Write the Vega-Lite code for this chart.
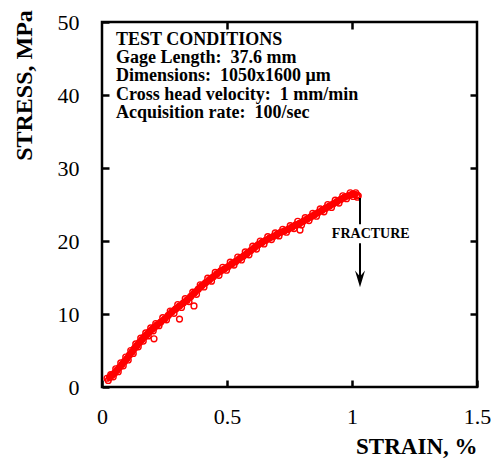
{
  "$schema": "https://vega.github.io/schema/vega-lite/v6.json",
  "width": 375,
  "height": 365,
  "autosize": "none",
  "padding": {"left": 102, "top": 22, "right": 17, "bottom": 71},
  "background": "white",
  "config": {
    "font": "Liberation Serif",
    "view": {"stroke": "black", "strokeWidth": 2.5},
    "axis": {"grid": false, "domain": false, "tickColor": "black", "tickWidth": 2.5, "labelColor": "black", "titleColor": "black", "labelFont": "Liberation Serif", "titleFont": "Liberation Serif"}
  },
  "datasets": {
    "curve": [
      {"strain": 0.020, "stress": 1.2, "kind": "a"}, {"strain": 0.030, "stress": 1.3, "kind": "a"}, {"strain": 0.040, "stress": 1.6, "kind": "a"}, {"strain": 0.050, "stress": 1.9, "kind": "a"}, {"strain": 0.060, "stress": 2.3, "kind": "a"}, {"strain": 0.070, "stress": 2.7, "kind": "a"}, {"strain": 0.080, "stress": 3.1, "kind": "a"}, {"strain": 0.090, "stress": 3.5, "kind": "a"}, {"strain": 0.100, "stress": 3.9, "kind": "a"}, {"strain": 0.110, "stress": 4.4, "kind": "a"}, {"strain": 0.120, "stress": 4.8, "kind": "a"}, {"strain": 0.130, "stress": 5.3, "kind": "a"}, {"strain": 0.140, "stress": 5.7, "kind": "a"}, {"strain": 0.150, "stress": 6.1, "kind": "a"}, {"strain": 0.160, "stress": 6.5, "kind": "a"}, {"strain": 0.170, "stress": 6.9, "kind": "a"}, {"strain": 0.180, "stress": 7.2, "kind": "a"}, {"strain": 0.190, "stress": 7.6, "kind": "a"}, {"strain": 0.200, "stress": 7.9, "kind": "a"}, {"strain": 0.210, "stress": 8.2, "kind": "a"}, {"strain": 0.220, "stress": 8.5, "kind": "a"}, {"strain": 0.235, "stress": 8.9, "kind": "a"}, {"strain": 0.250, "stress": 9.3, "kind": "a"}, {"strain": 0.265, "stress": 9.8, "kind": "a"}, {"strain": 0.280, "stress": 10.3, "kind": "a"}, {"strain": 0.295, "stress": 10.7, "kind": "a"}, {"strain": 0.310, "stress": 11.1, "kind": "a"}, {"strain": 0.325, "stress": 11.5, "kind": "a"}, {"strain": 0.340, "stress": 11.9, "kind": "a"}, {"strain": 0.355, "stress": 12.4, "kind": "a"}, {"strain": 0.370, "stress": 12.9, "kind": "a"}, {"strain": 0.385, "stress": 13.4, "kind": "a"}, {"strain": 0.400, "stress": 13.9, "kind": "a"}, {"strain": 0.415, "stress": 14.3, "kind": "a"}, {"strain": 0.430, "stress": 14.7, "kind": "a"}, {"strain": 0.445, "stress": 15.1, "kind": "a"}, {"strain": 0.460, "stress": 15.5, "kind": "a"}, {"strain": 0.475, "stress": 15.9, "kind": "a"}, {"strain": 0.490, "stress": 16.2, "kind": "a"}, {"strain": 0.505, "stress": 16.5, "kind": "a"}, {"strain": 0.520, "stress": 16.9, "kind": "a"}, {"strain": 0.535, "stress": 17.2, "kind": "a"}, {"strain": 0.550, "stress": 17.6, "kind": "a"}, {"strain": 0.565, "stress": 17.9, "kind": "a"}, {"strain": 0.580, "stress": 18.3, "kind": "a"}, {"strain": 0.595, "stress": 18.7, "kind": "a"}, {"strain": 0.610, "stress": 19.1, "kind": "a"}, {"strain": 0.625, "stress": 19.5, "kind": "a"}, {"strain": 0.640, "stress": 19.8, "kind": "a"}, {"strain": 0.655, "stress": 20.1, "kind": "a"}, {"strain": 0.670, "stress": 20.4, "kind": "a"}, {"strain": 0.685, "stress": 20.6, "kind": "a"}, {"strain": 0.700, "stress": 20.9, "kind": "a"}, {"strain": 0.715, "stress": 21.2, "kind": "a"}, {"strain": 0.730, "stress": 21.4, "kind": "a"}, {"strain": 0.745, "stress": 21.6, "kind": "a"}, {"strain": 0.760, "stress": 21.9, "kind": "a"}, {"strain": 0.775, "stress": 22.2, "kind": "a"}, {"strain": 0.790, "stress": 22.4, "kind": "a"}, {"strain": 0.805, "stress": 22.7, "kind": "a"}, {"strain": 0.820, "stress": 23.0, "kind": "a"}, {"strain": 0.835, "stress": 23.3, "kind": "a"}, {"strain": 0.850, "stress": 23.6, "kind": "a"}, {"strain": 0.865, "stress": 23.9, "kind": "a"}, {"strain": 0.880, "stress": 24.2, "kind": "a"}, {"strain": 0.895, "stress": 24.5, "kind": "a"}, {"strain": 0.910, "stress": 24.8, "kind": "a"}, {"strain": 0.925, "stress": 25.1, "kind": "a"}, {"strain": 0.940, "stress": 25.4, "kind": "a"}, {"strain": 0.955, "stress": 25.7, "kind": "a"}, {"strain": 0.970, "stress": 26.0, "kind": "a"}, {"strain": 0.985, "stress": 26.2, "kind": "a"}, {"strain": 1.000, "stress": 26.4, "kind": "a"}, {"strain": 1.010, "stress": 26.4, "kind": "a"}, {"strain": 1.020, "stress": 26.3, "kind": "a"}, {"strain": 1.025, "stress": 26.2, "kind": "a"},
      {"strain": 0.025, "stress": 0.9, "kind": "b"}, {"strain": 0.035, "stress": 1.7, "kind": "b"}, {"strain": 0.045, "stress": 1.4, "kind": "b"}, {"strain": 0.055, "stress": 2.5, "kind": "b"}, {"strain": 0.065, "stress": 2.1, "kind": "b"}, {"strain": 0.075, "stress": 3.3, "kind": "b"}, {"strain": 0.085, "stress": 2.9, "kind": "b"}, {"strain": 0.095, "stress": 4.1, "kind": "b"}, {"strain": 0.105, "stress": 3.7, "kind": "b"}, {"strain": 0.115, "stress": 5.0, "kind": "b"}, {"strain": 0.125, "stress": 4.6, "kind": "b"}, {"strain": 0.135, "stress": 5.9, "kind": "b"}, {"strain": 0.145, "stress": 5.5, "kind": "b"}, {"strain": 0.155, "stress": 6.7, "kind": "b"}, {"strain": 0.165, "stress": 6.3, "kind": "b"}, {"strain": 0.175, "stress": 7.4, "kind": "b"}, {"strain": 0.185, "stress": 7.0, "kind": "b"}, {"strain": 0.195, "stress": 8.1, "kind": "b"}, {"strain": 0.205, "stress": 7.7, "kind": "b"}, {"strain": 0.215, "stress": 8.7, "kind": "b"}, {"strain": 0.228, "stress": 8.4, "kind": "b"}, {"strain": 0.243, "stress": 9.5, "kind": "b"}, {"strain": 0.258, "stress": 9.2, "kind": "b"}, {"strain": 0.273, "stress": 10.4, "kind": "b"}, {"strain": 0.288, "stress": 10.1, "kind": "b"}, {"strain": 0.303, "stress": 11.3, "kind": "b"}, {"strain": 0.318, "stress": 10.9, "kind": "b"}, {"strain": 0.333, "stress": 12.1, "kind": "b"}, {"strain": 0.348, "stress": 11.7, "kind": "b"}, {"strain": 0.363, "stress": 13.0, "kind": "b"}, {"strain": 0.378, "stress": 12.7, "kind": "b"}, {"strain": 0.393, "stress": 14.0, "kind": "b"}, {"strain": 0.408, "stress": 13.7, "kind": "b"}, {"strain": 0.423, "stress": 14.9, "kind": "b"}, {"strain": 0.438, "stress": 14.5, "kind": "b"}, {"strain": 0.453, "stress": 15.7, "kind": "b"}, {"strain": 0.468, "stress": 15.3, "kind": "b"}, {"strain": 0.483, "stress": 16.4, "kind": "b"}, {"strain": 0.498, "stress": 16.0, "kind": "b"}, {"strain": 0.513, "stress": 17.1, "kind": "b"}, {"strain": 0.528, "stress": 16.7, "kind": "b"}, {"strain": 0.543, "stress": 17.8, "kind": "b"}, {"strain": 0.558, "stress": 17.4, "kind": "b"}, {"strain": 0.573, "stress": 18.5, "kind": "b"}, {"strain": 0.588, "stress": 18.1, "kind": "b"}, {"strain": 0.603, "stress": 19.3, "kind": "b"}, {"strain": 0.618, "stress": 18.9, "kind": "b"}, {"strain": 0.633, "stress": 20.0, "kind": "b"}, {"strain": 0.648, "stress": 19.6, "kind": "b"}, {"strain": 0.663, "stress": 20.6, "kind": "b"}, {"strain": 0.678, "stress": 20.2, "kind": "b"}, {"strain": 0.693, "stress": 21.1, "kind": "b"}, {"strain": 0.708, "stress": 20.7, "kind": "b"}, {"strain": 0.723, "stress": 21.6, "kind": "b"}, {"strain": 0.738, "stress": 21.2, "kind": "b"}, {"strain": 0.753, "stress": 22.1, "kind": "b"}, {"strain": 0.768, "stress": 21.7, "kind": "b"}, {"strain": 0.783, "stress": 22.7, "kind": "b"}, {"strain": 0.798, "stress": 22.2, "kind": "b"}, {"strain": 0.813, "stress": 23.2, "kind": "b"}, {"strain": 0.828, "stress": 22.8, "kind": "b"}, {"strain": 0.843, "stress": 23.8, "kind": "b"}, {"strain": 0.858, "stress": 23.4, "kind": "b"}, {"strain": 0.873, "stress": 24.4, "kind": "b"}, {"strain": 0.888, "stress": 24.0, "kind": "b"}, {"strain": 0.903, "stress": 25.0, "kind": "b"}, {"strain": 0.918, "stress": 24.6, "kind": "b"}, {"strain": 0.933, "stress": 25.6, "kind": "b"}, {"strain": 0.948, "stress": 25.2, "kind": "b"}, {"strain": 0.963, "stress": 26.2, "kind": "b"}, {"strain": 0.978, "stress": 25.8, "kind": "b"}, {"strain": 0.993, "stress": 26.6, "kind": "b"}, {"strain": 1.005, "stress": 26.1, "kind": "b"}, {"strain": 1.015, "stress": 26.6, "kind": "b"}, {"strain": 1.022, "stress": 26.0, "kind": "b"},
      {"strain": 0.208, "stress": 6.6, "kind": "o"}, {"strain": 0.310, "stress": 9.3, "kind": "o"}, {"strain": 0.368, "stress": 11.1, "kind": "o"}, {"strain": 0.792, "stress": 21.5, "kind": "o"}
    ],
    "notes": [
      {"strain": 0.056, "stress": 46.85, "label": "TEST CONDITIONS"},
      {"strain": 0.056, "stress": 44.35, "label": "Gage Length:\u00a0 37.6 mm"},
      {"strain": 0.056, "stress": 41.85, "label": "Dimensions:\u00a0 1050x1600 μm"},
      {"strain": 0.056, "stress": 39.35, "label": "Cross head velocity:\u00a0 1 mm/min"},
      {"strain": 0.056, "stress": 36.85, "label": "Acquisition rate:\u00a0 100/sec"}
    ],
    "fracture": [
      {"strain": 1.075, "stress": 21.0, "label": "FRACTURE"}
    ],
    "arrow": [
      {"strain": 1.032, "top": 25.9, "bottom": 22.3},
      {"strain": 1.032, "top": 19.7, "bottom": 14.5}
    ],
    "arrowhead": [
      {"strain": 1.032, "stress": 14.8}
    ]
  },
  "layer": [
    {
      "data": {"name": "curve"},
      "transform": [{"filter": "datum.kind == 'a'"}],
      "mark": {"type": "line", "color": "#ff0000", "strokeWidth": 6.5},
      "encoding": {
        "x": {"field": "strain", "type": "quantitative", "scale": {"domain": [0, 1.5], "nice": false},
          "axis": {"orient": "bottom", "offset": -7, "values": [0, 0.5, 1, 1.5], "tickSize": 7, "labelPadding": 36, "labelBaseline": "alphabetic", "labelFontSize": 22, "labelFlush": false, "labelOverlap": false, "format": "~g",
            "title": "STRAIN, %", "titleFontSize": 23, "titleFontWeight": "bold", "titleX": 375, "titleY": 73, "titleAlign": "right", "titleBaseline": "alphabetic", "titleAnchor": null}},
        "y": {"field": "stress", "type": "quantitative", "scale": {"domain": [0, 50], "nice": false},
          "axis": {"orient": "left", "offset": -7, "values": [0, 10, 20, 30, 40, 50], "tickSize": 7, "labelPadding": 23, "labelFontSize": 22, "labelFlush": false, "labelOverlap": false,
            "title": "STRESS, MPa", "titleFontSize": 24, "titleFontWeight": "bold", "titleAngle": -90, "titleX": -78, "titleY": 63, "titleAlign": "center", "titleBaseline": "alphabetic", "titleAnchor": null}},
        "order": {"field": "strain", "type": "quantitative"}
      }
    },
    {
      "data": {"name": "curve"},
      "mark": {"type": "point", "shape": "circle", "filled": false, "color": "#ff0000", "size": 34, "strokeWidth": 1.4, "opacity": 1},
      "encoding": {
        "x": {"field": "strain", "type": "quantitative", "axis": null},
        "y": {"field": "stress", "type": "quantitative", "axis": null}
      }
    },
    {
      "data": {"name": "notes"},
      "mark": {"type": "text", "align": "left", "baseline": "alphabetic", "fontSize": 18, "fontWeight": "bold", "font": "Liberation Serif", "color": "black"},
      "encoding": {
        "x": {"field": "strain", "type": "quantitative", "scale": {"domain": [0, 1.5], "nice": false},
          "axis": {"orient": "top", "offset": -7, "values": [0.5, 1], "tickSize": 7, "labels": false, "title": null}},
        "y": {"field": "stress", "type": "quantitative", "scale": {"domain": [0, 50], "nice": false},
          "axis": {"orient": "right", "offset": -7, "values": [10, 20, 30, 40], "tickSize": 7, "labels": false, "title": null}},
        "text": {"field": "label", "type": "nominal"}
      }
    },
    {
      "data": {"name": "fracture"},
      "mark": {"type": "text", "align": "center", "baseline": "middle", "fontSize": 14, "fontWeight": "bold", "font": "Liberation Serif", "color": "black"},
      "encoding": {
        "x": {"field": "strain", "type": "quantitative", "axis": null},
        "y": {"field": "stress", "type": "quantitative", "axis": null},
        "text": {"field": "label", "type": "nominal"}
      }
    },
    {
      "data": {"name": "arrow"},
      "mark": {"type": "rule", "color": "black", "strokeWidth": 2},
      "encoding": {
        "x": {"field": "strain", "type": "quantitative", "axis": null},
        "y": {"field": "top", "type": "quantitative", "axis": null},
        "y2": {"field": "bottom"}
      }
    },
    {
      "data": {"name": "arrowhead"},
      "mark": {"type": "point", "shape": "M -0.6 -1 L 0 1 L 0.6 -1 L 0 -0.3 Z", "filled": true, "color": "black", "size": 280, "opacity": 1},
      "encoding": {
        "x": {"field": "strain", "type": "quantitative", "axis": null},
        "y": {"field": "stress", "type": "quantitative", "axis": null}
      }
    }
  ],
  "resolve": {"axis": {"x": "independent", "y": "independent"}}
}
